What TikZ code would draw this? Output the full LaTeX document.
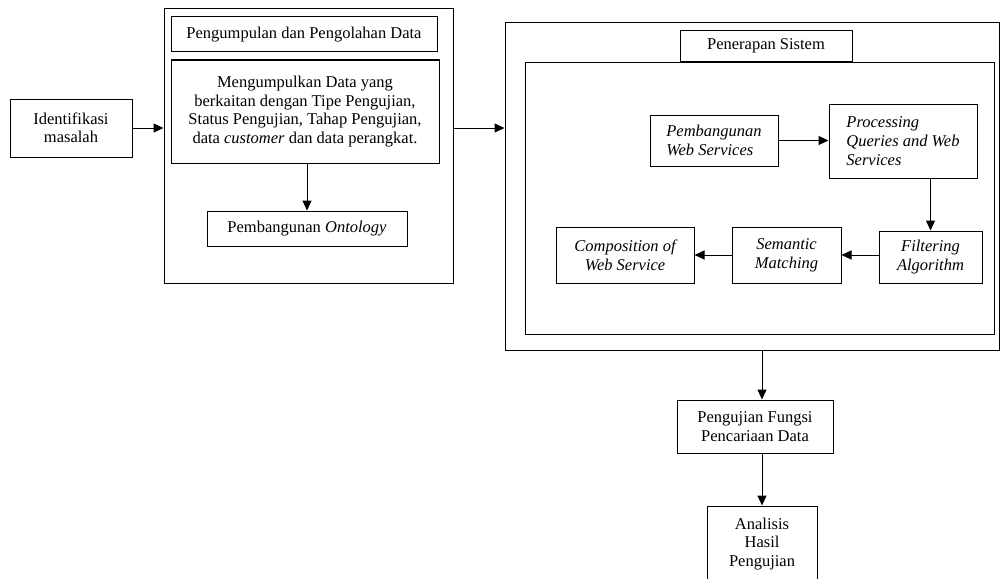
\documentclass[tikz,border=0pt]{standalone}
\usepackage{fontspec}
\setmainfont{Liberation Serif}
\usetikzlibrary{arrows.meta,positioning}

\begin{document}
\begin{tikzpicture}[x=1pt, y=-1pt]
      \tikzset{every node/.style={draw=black, rectangle, line width=1pt, inner sep=0pt,
          align=center, font=\fontsize{16.5}{18.5}\selectfont},
        miring/.style={font=\fontsize{16.5}{19}\selectfont\itshape},
        panah/.style={draw=black, line width=1pt, -{Triangle[length=10pt,width=9pt]}}}
      \useasboundingbox (0,0) rectangle (1000,578);
      % \draw[gray, dashed] (0,0) grid[step=50] (1000,578);

      \node[minimum width=122pt, minimum height=58pt] (identifikasi) at (71,128) {Identifikasi\\masalah};

      % pengumpulan data
      \node[minimum width=289pt, minimum height=274pt] (tengah) at (308.5,146) {};
      \node[minimum width=266pt, minimum height=35pt] (pengumpulan) at (304,34.5) {Pengumpulan dan Pengolahan Data};
      \node[minimum width=268pt, minimum height=103pt] (data) at (305,111.5)
        {Mengumpulkan Data yang\\berkaitan dengan Tipe Pengujian,\\Status Pengujian, Tahap Pengujian,\\data \textit{customer} dan data perangkat.};
      \node[minimum width=200pt, minimum height=35pt] (ontology) at (307,228.5) {Pembangunan \textit{Ontology}};

      % penerapan sistem
      \node[minimum width=494pt, minimum height=327pt] (penerapan) at (752,186.5) {};
      \node[minimum width=469pt, minimum height=272pt] (dalam) at (759.5,198) {};
      \node[minimum width=172pt, minimum height=30pt] (judul) at (766,46) {Penerapan Sistem};
      \node[miring, align=left, minimum width=128pt, minimum height=51pt] (webservice) at (714,140.5) {Pembangunan\\Web Services};
      \node[miring, align=left, minimum width=148pt, minimum height=74pt] (processing) at (903,141) {Processing\\Queries and Web\\Services};
      \node[miring, minimum width=103pt, minimum height=52pt] (filtering) at (930.5,257) {Filtering\\Algorithm};
      \node[miring, minimum width=109pt, minimum height=56pt] (semantic) at (786.5,255) {Semantic\\Matching};
      \node[miring, minimum width=138pt, minimum height=56pt] (composition) at (625,255) {Composition of\\Web Service};

      \node[minimum width=156pt, minimum height=53pt] (pengujian) at (755,426.5) {Pengujian Fungsi\\Pencariaan Data};
      \node[minimum width=110pt, minimum height=76pt] (analisis) at (762,544) {Analisis\\Hasil\\Pengujian};

      \draw[panah] (identifikasi.east) -- (identifikasi.east -| tengah.west);
      \draw[panah] (tengah.east |- identifikasi) -- (penerapan.west |- identifikasi);
      \draw[panah] (data.south -| ontology.north) -- (ontology.north);
      \draw[panah] (webservice.east) -- (webservice.east -| processing.west);
      \draw[panah] (processing.south -| filtering.north) -- (filtering.north);
      \draw[panah] (semantic.east -| filtering.west) -- (semantic.east);
      \draw[panah] (semantic.west) -- (semantic.west -| composition.east);
      \draw[panah] (penerapan.south -| analisis) -- (pengujian.north -| analisis);
      \draw[panah] (pengujian.south -| analisis) -- (analisis.north);
    \end{tikzpicture}
\end{document}
